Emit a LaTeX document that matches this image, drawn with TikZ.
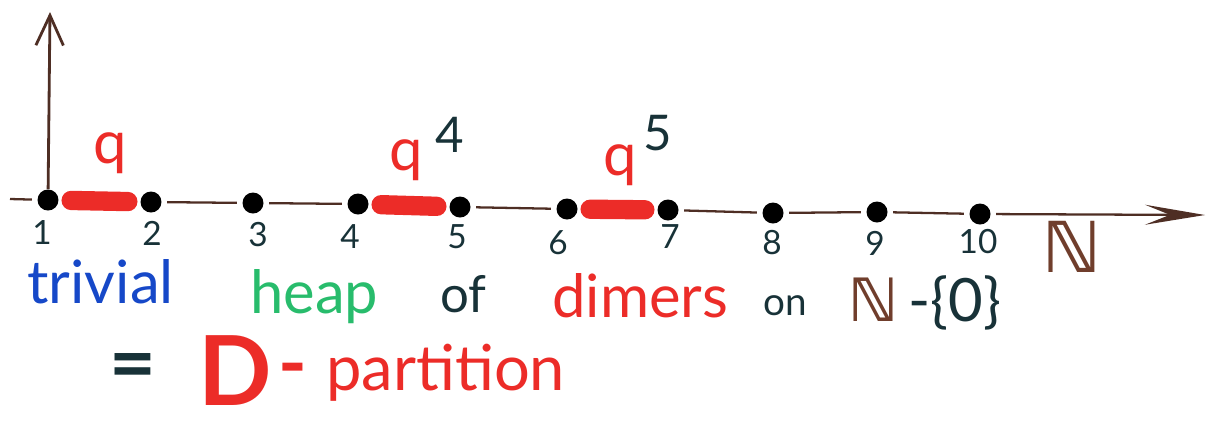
\documentclass[tikz,border=0pt]{standalone}
\usepackage{fontspec}
\setmainfont{Lato}
\newfontfamily\natfont{DejaVu Sans}
\usetikzlibrary{arrows.meta}
\definecolor{axisbrown}{RGB}{78,46,36}
\definecolor{natbrown}{RGB}{112,62,44}
\definecolor{dimerred}{RGB}{236,44,40}
\definecolor{inkteal}{RGB}{24,50,56}
\definecolor{trivblue}{RGB}{22,72,200}
\definecolor{heapgreen}{RGB}{40,188,108}
\begin{document}
\begin{tikzpicture}[x=0.02cm,y=-0.02cm,
      site/.style={circle,fill=black,inner sep=0pt,minimum size=0.42cm},
      axis/.style={axisbrown,line width=1.3pt,shorten <=3pt,shorten >=3pt},
      dimer/.style={dimerred,line width=11pt,line cap=round,shorten <=7pt,shorten >=7pt},
      num/.style={text=inkteal,font=\fontsize{19}{22}\selectfont},
      weight/.style={text=dimerred,font=\fontsize{34}{40}\selectfont,anchor=base,inner sep=0pt},
      expo/.style={text=inkteal,font=\fontsize{28}{32}\selectfont,anchor=base west,inner sep=0pt},
      word/.style={font=\fontsize{34}{40}\selectfont,anchor=base west,inner sep=0pt}]

    \useasboundingbox (0,0) rectangle (1227,424);

    % ---- sites 1..10 and their numbers ---------------------------------
    \foreach \i/\x/\y/\lx/\ly in {1/48/200/42/233, 2/151/202/152/233,
          3/253/203/258/235, 4/358/204/350/237, 5/460/207/457/237,
          6/567/209/558/243, 7/668/210/670/237, 8/773/213/772/243,
          9/877/212/875/243, 10/980/214/978/242}{%
      \node[site] (d\i) at (\x,\y) {};
      \node[num] (n\i) at (\lx,\ly) {\i};}

    % ---- the line N and the vertical axis ------------------------------
    \coordinate (west) at (10,199);
    \coordinate (east) at (1205,215);
    \coordinate (top) at (50,12);
    \draw[axis,shorten <=0pt] (west) -- (d1);
    \foreach \a/\b in {2/3,3/4,5/6,7/8,8/9,9/10}
      \draw[axis] (d\a) -- (d\b);
    \draw[axis,shorten >=0pt,-{Stealth[length=1.2cm,width=0.4cm,inset=0.5cm]}]
          (d10) -- (east);
    \draw[axis,line width=1.6pt,shorten <=0pt,shorten >=0pt,
          -{Straight Barb[length=0.6cm,width=0.55cm,line width=1.6pt]}] (d1) -- (top);
    \node[text=natbrown,font=\natfont\fontsize{40}{44}\selectfont\bfseries] (nat) at (1072,247) {ℕ};

    % ---- dimers and their weights --------------------------------------
    \foreach \a/\b in {1/2,4/5,6/7}
      \draw[dimer] (d\a) -- (d\b);
    \node[weight] (w1) at (110,163) {q};
    \node[weight] (w4) at (406,170) {q};
    \node[expo] (e4) at (435,152) {4};
    \node[weight] (w5) at (620,175) {q};
    \node[expo] (e5) at (643,150) {5};

    % ---- caption -------------------------------------------------------
    \node[word,text=trivblue] (triv) at (27,303) {trivial};
    \node[word,text=heapgreen] (heap) at (250,313) {heap};
    \node[word,text=inkteal,font=\fontsize{29}{34}\selectfont] (of) at (440,312) {of};
    \node[word,text=dimerred] (dim) at (552,317) {dimers};
    \node[word,text=inkteal,font=\fontsize{22}{26}\selectfont] (on) at (763,315) {on};
    \node[word] (set) at (848,321)
          {\textcolor{natbrown}{\natfont\bfseries ℕ}\textcolor{inkteal}{\,-\{0\}}};
    \node[text=inkteal,font=\fontsize{46}{50}\selectfont\bfseries] (eq) at (133,372) {=};
    \node[word,text=dimerred,font=\fontsize{55}{60}\selectfont\bfseries] (bigD) at (198,405) {D};
    \node[word,text=dimerred,font=\fontsize{36}{40}\selectfont] (part) at (278,390)
          {{\fontsize{44}{48}\selectfont\bfseries -}\hspace{0.3em}partition};
  \end{tikzpicture}
\end{document}
